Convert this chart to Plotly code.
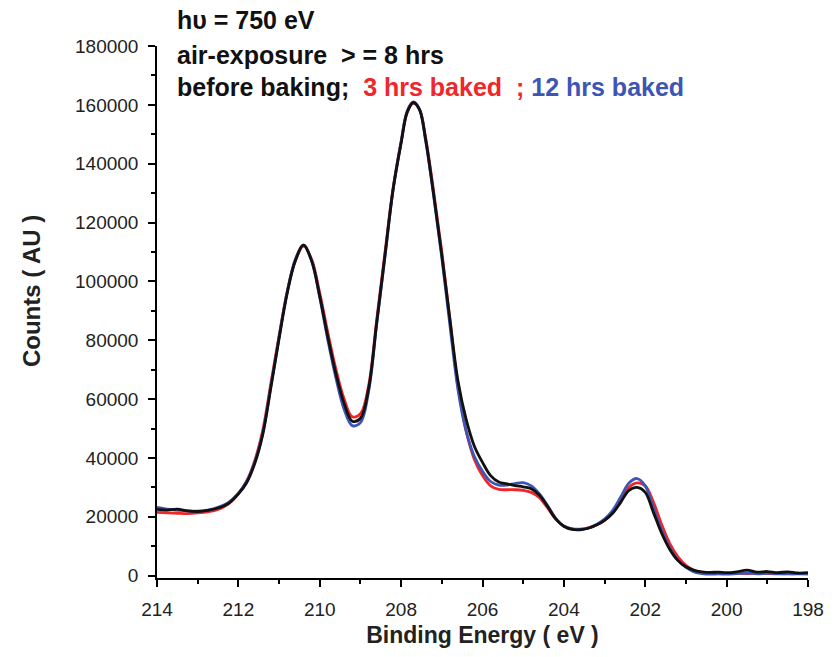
import plotly.graph_objects as go

# Binding energy grid (eV), shared by all three spectra
binding_energy = [
    214.0, 213.75, 213.5, 213.25, 213.0, 212.75, 212.5, 212.25, 212.0, 211.8,
    211.6, 211.4, 211.2, 211.0, 210.8, 210.6, 210.4, 210.2, 210.0, 209.8,
    209.6, 209.4, 209.2, 209.0, 208.8, 208.6, 208.4, 208.2, 208.0, 207.85,
    207.7, 207.55, 207.4, 207.2, 207.0, 206.8, 206.6, 206.4, 206.2, 206.0,
    205.8, 205.6, 205.4, 205.2, 205.0, 204.8, 204.6, 204.4, 204.2, 204.0,
    203.8, 203.6, 203.4, 203.2, 203.0, 202.8, 202.6, 202.4, 202.2, 202.0,
    201.8, 201.6, 201.4, 201.2, 201.0, 200.8, 200.6, 200.4, 200.2, 200.0,
    199.75, 199.5, 199.25, 199.0, 198.75, 198.5, 198.25, 198.0,
]

# Counts before baking
counts_before = [
    22500, 22300, 22600, 22000, 21800, 22200, 23000, 24500, 27800, 31500,
    38000, 48000, 64000, 80500, 96000, 107000, 112300, 107000, 95000, 81000,
    68500, 58500, 52500, 53500, 63500, 86000, 108500, 131000, 147000, 157500,
    160800, 158500, 148500, 129500, 109000, 87000, 66000, 53000, 44000, 38500,
    34000, 31800, 31200, 30600, 30200, 29500, 27300, 23500, 19300, 16800,
    15700, 15600, 16100, 17200, 18800, 21200, 25000, 29000, 30000, 28300,
    21500, 14500, 9000, 5200, 3000, 1800, 1300, 1100, 1200, 1000,
    1300, 1900, 1200, 1400, 1000, 1300, 900, 1000,
]

# Counts after 3 hrs baking
counts_3h = [
    21500, 21300, 21200, 21100, 21300, 21700, 22500, 24300, 27800, 32000,
    39000, 49500, 65500, 81500, 96500, 107000, 112000, 107500, 96000, 82500,
    70000, 60000, 54000, 55000, 64500, 87000, 109500, 131500, 147500, 157500,
    160500, 158500, 149000, 130500, 110000, 87000, 64000, 49000, 39500, 34000,
    30500, 29300, 29200, 29200, 29000, 28300, 26500, 23000, 19200, 16800,
    15900, 15800, 16200, 17200, 18800, 21500, 25800, 30000, 31500, 30500,
    25000, 17500, 11000, 6500, 3500, 1800, 1000, 800, 800, 700,
    800, 700, 800, 700, 600, 700, 600, 600,
]

# Counts after 12 hrs baking
counts_12h = [
    23200, 22600, 22300, 22000, 21900, 22300, 23200, 24800, 28000, 32000,
    38500, 48500, 64500, 81000, 96500, 107500, 112300, 107000, 94500, 80000,
    67000, 56500, 51000, 52000, 62500, 85500, 108000, 131000, 147500, 158000,
    161000, 158500, 148000, 129000, 108000, 85000, 63000, 49000, 40500, 35500,
    32000, 30800, 30800, 31300, 31600, 30500, 27800, 23800, 19500, 16800,
    15900, 15700, 16200, 17400, 19200, 22200, 26800, 31500, 33000, 30500,
    23000, 15500, 9500, 5300, 2800, 1300, 700, 500, 600, 500,
    700, 900, 600, 800, 700, 600, 700, 600,
]

RED = "#f0262b"
BLUE = "#3d55b4"
BLACK = "#111111"

fig = go.Figure()
for name, ys, color in [
    ("3 hrs baked", counts_3h, RED),
    ("12 hrs baked", counts_12h, BLUE),
    ("before baking", counts_before, BLACK),
]:
    fig.add_trace(go.Scatter(
        x=binding_energy, y=ys, mode="lines", name=name,
        line=dict(color=color, width=2.8, shape="spline", smoothing=1.0),
        showlegend=False,
    ))

font_family = "Liberation Sans, Arial, sans-serif"

axis_common = dict(
    showline=True, linecolor="black", linewidth=1.5,
    ticks="outside", ticklen=7, tickwidth=1.5, tickcolor="black",
    showgrid=False, zeroline=False,
    tickfont=dict(family=font_family, size=19, color="#222"),
    title_font=dict(family=font_family, size=23, color="#222"),
)

fig.update_xaxes(
    range=[214, 198], tick0=198, dtick=2,
    minor=dict(dtick=1, ticks="outside", ticklen=4, tickwidth=1.5, tickcolor="black"),
    title_text="<b>Binding Energy ( eV )</b>", title_standoff=8,
    ticklabelstandoff=6,
    **axis_common,
)
fig.update_yaxes(
    range=[-800, 180000], tick0=0, dtick=20000, tickformat="d",
    minor=dict(dtick=10000, ticks="outside", ticklen=4, tickwidth=1.5, tickcolor="black"),
    ticklabelstandoff=6,
    **axis_common,
)

# Vertical axis title, placed a little above the plot centre
fig.add_annotation(
    text="<b>Counts ( AU )</b>", textangle=-90,
    xref="paper", yref="paper", x=-0.193, y=0.54,
    xanchor="center", yanchor="middle", showarrow=False,
    font=dict(family=font_family, size=24, color="#222"),
)

header_lines = [
    ("<b>hυ = 750 eV</b>", 1.049),
    ("<b>air-exposure  > = 8 hrs</b>", 0.983),
    ("<b>before baking;  <span style='color:%s'>3 hrs baked  ;</span> "
     "<span style='color:%s'>12 hrs baked</span></b>" % (RED, BLUE), 0.923),
]
for text, ypos in header_lines:
    fig.add_annotation(
        text=text, xref="paper", yref="paper", x=0.027, y=ypos,
        xanchor="left", yanchor="middle", showarrow=False,
        font=dict(family=font_family, size=25, color="#111"),
    )

fig.update_layout(
    width=836, height=657,
    margin=dict(l=157, r=22, t=46, b=79),
    plot_bgcolor="white", paper_bgcolor="white",
)

fig.write_html("out.html")
